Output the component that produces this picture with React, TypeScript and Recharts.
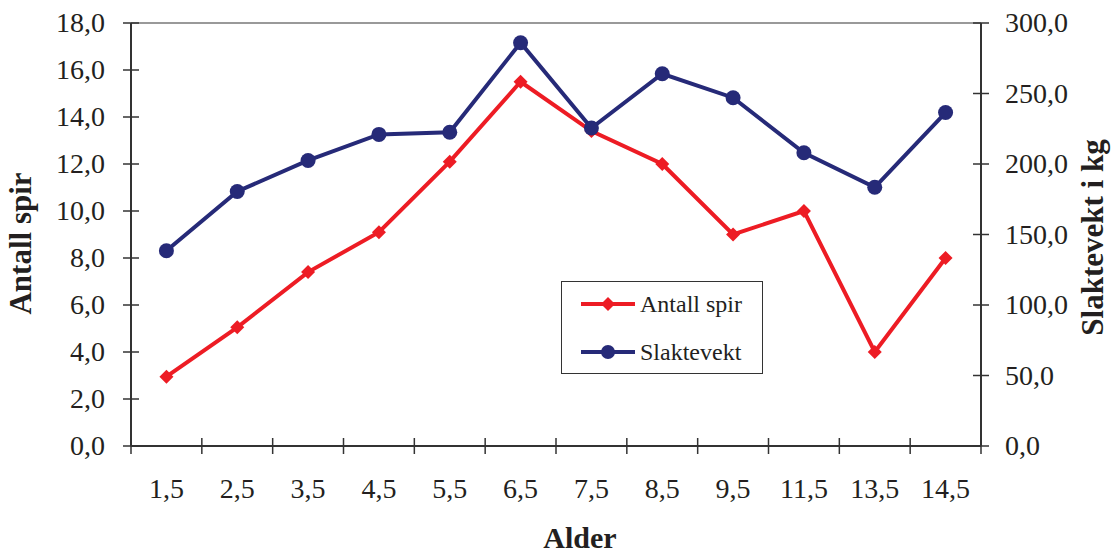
import React from 'react';
import { LineChart, Line, XAxis, YAxis, Legend, ReferenceLine } from 'recharts';

const categories = ['1,5', '2,5', '3,5', '4,5', '5,5', '6,5', '7,5', '8,5', '9,5', '11,5', '13,5', '14,5'];
const antallSpir = [2.95, 5.05, 7.4, 9.1, 12.1, 15.5, 13.4, 12.0, 9.0, 10.0, 4.0, 8.0];
const slaktevekt = [138.5, 180.5, 202.5, 221, 222.5, 286, 225.5, 264, 247, 208, 183.5, 236.5];
const leftTicks = [0, 2, 4, 6, 8, 10, 12, 14, 16, 18];
const rightTicks = [0, 50, 100, 150, 200, 250, 300];

const seriesNames = ['Antall spir', 'Slaktevekt'];

const data = categories.map((c, i) => ({ alder: c, antall: antallSpir[i], slakt: slaktevekt[i] }));

const W = 1114;
const H = 556;
const LEFT_W = 131;
const RIGHT_W = 133;
const TOP = 23;
const X_H = 110;
const STEP = (W - LEFT_W - RIGHT_W) / categories.length;

const RED = '#ED1C24';
const NAVY = '#262A78';
const TXT = '#231F20';
const FONT = '"Liberation Serif", "Times New Roman", serif';

const fmt = (v: number) => v.toFixed(1).replace('.', ',');

const Diamond = (props: any) => {
  const { cx, cy } = props;
  if (cx == null || cy == null) return null;
  const s = 7;
  return <polygon points={`${cx},${cy - s} ${cx + s},${cy} ${cx},${cy + s} ${cx - s},${cy}`} fill={RED} />;
};

const Circle = (props: any) => {
  const { cx, cy } = props;
  if (cx == null || cy == null) return null;
  return <circle cx={cx} cy={cy} r={7.5} fill={NAVY} />;
};

const XTick = (props: any) => {
  const { x, y, payload, index } = props;
  const half = STEP / 2;
  return (
    <g>
      <line x1={x - half} x2={x - half} y1={y - 8} y2={y + 8} stroke="#333" strokeWidth={1.5} />
      {index === categories.length - 1 && (
        <line x1={x + half} x2={x + half} y1={y - 8} y2={y + 8} stroke="#333" strokeWidth={1.5} />
      )}
      <text x={x} y={y + 52} textAnchor="middle" fontFamily={FONT} fontSize={28} fill={TXT}>
        {payload.value}
      </text>
    </g>
  );
};

const LeftTick = (props: any) => {
  const { x, y, payload } = props;
  return (
    <g>
      <line x1={x - 8} x2={x + 8} y1={y} y2={y} stroke="#333" strokeWidth={1.5} />
      <text x={x - 26} y={y + 9} textAnchor="end" fontFamily={FONT} fontSize={28} fill={TXT}>
        {fmt(payload.value)}
      </text>
    </g>
  );
};

const RightTick = (props: any) => {
  const { x, y, payload } = props;
  return (
    <g>
      <line x1={x - 8} x2={x + 8} y1={y} y2={y} stroke="#333" strokeWidth={1.5} />
      <text x={x + 24} y={y + 9} textAnchor="start" fontFamily={FONT} fontSize={28} fill={TXT}>
        {fmt(payload.value)}
      </text>
    </g>
  );
};

const LeftTitle = (props: any) => {
  const vb = props.viewBox || {};
  const cx = 31;
  const cy = (vb.y ?? TOP) + (vb.height ?? 423) / 2 + 9;
  return (
    <text x={cx} y={cy} transform={`rotate(-90, ${cx}, ${cy})`} textAnchor="middle" fontFamily={FONT} fontWeight="bold" fontSize={31} fill={TXT}>
      Antall spir
    </text>
  );
};

const RightTitle = (props: any) => {
  const vb = props.viewBox || {};
  const cx = 1103;
  const cy = (vb.y ?? TOP) + (vb.height ?? 423) / 2 + 3;
  return (
    <text x={cx} y={cy} transform={`rotate(-90, ${cx}, ${cy})`} textAnchor="middle" fontFamily={FONT} fontWeight="bold" fontSize={31} fill={TXT}>
      Slaktevekt i kg
    </text>
  );
};

const XTitle = (props: any) => {
  const vb = props.viewBox || {};
  const x = (vb.x ?? LEFT_W) + (vb.width ?? 850) / 2 + 24;
  return (
    <text x={x} y={548} textAnchor="middle" fontFamily={FONT} fontWeight="bold" fontSize={30} fill={TXT}>
      Alder
    </text>
  );
};

const LegendBox = () => (
  <div
    style={{
      width: 202,
      height: 93,
      boxSizing: 'border-box',
      border: '1.5px solid #333',
      background: '#fff',
      fontFamily: FONT,
      fontSize: 24,
      color: TXT,
      position: 'relative',
    }}
  >
    {seriesNames.map((name, i) => (
      <div key={name} style={{ position: 'absolute', left: 18, top: i === 0 ? 7 : 55, height: 30, display: 'flex', alignItems: 'center' }}>
        <svg width={56} height={20} style={{ display: 'block' }}>
          <line x1={1} x2={55} y1={10} y2={10} stroke={i === 0 ? RED : NAVY} strokeWidth={4} />
          {i === 0 ? (
            <polygon points="28,3 35,10 28,17 21,10" fill={RED} />
          ) : (
            <circle cx={28} cy={10} r={7} fill={NAVY} />
          )}
        </svg>
        <span style={{ marginLeft: 4, lineHeight: '30px', whiteSpace: 'nowrap' }}>{name}</span>
      </div>
    ))}
  </div>
);

export default function App() {
  return (
    <div style={{ position: 'absolute', left: 0, top: 0, width: W, height: H, background: '#fff' }}>
      <LineChart width={W} height={H} data={data} margin={{ top: TOP, right: 0, bottom: 0, left: 0 }}>
        <XAxis
          dataKey="alder"
          height={X_H}
          interval={0}
          padding={{ left: STEP / 2, right: STEP / 2 }}
          tickSize={0}
          tickMargin={0}
          tickLine={false}
          axisLine={{ stroke: '#333', strokeWidth: 2 }}
          tick={<XTick />}
          label={<XTitle />}
        />
        <YAxis
          yAxisId="left"
          orientation="left"
          width={LEFT_W}
          domain={[0, 18]}
          ticks={leftTicks}
          interval={0}
          tickSize={0}
          tickMargin={0}
          tickLine={false}
          axisLine={{ stroke: '#333', strokeWidth: 2 }}
          tick={<LeftTick />}
          label={<LeftTitle />}
        />
        <YAxis
          yAxisId="right"
          orientation="right"
          width={RIGHT_W}
          domain={[0, 300]}
          ticks={rightTicks}
          interval={0}
          tickSize={0}
          tickMargin={0}
          tickLine={false}
          axisLine={{ stroke: '#333', strokeWidth: 2 }}
          tick={<RightTick />}
          label={<RightTitle />}
        />
        <ReferenceLine yAxisId="left" y={18} stroke="#999" strokeWidth={2} />
        <Legend
          layout="horizontal"
          verticalAlign="middle"
          align="center"
          content={<LegendBox />}
          wrapperStyle={{ position: 'absolute', left: 561, top: 281, width: 202, height: 93, bottom: 'auto', right: 'auto' }}
        />
        <Line
          yAxisId="left"
          dataKey="antall"
          name={seriesNames[0]}
          stroke={RED}
          strokeWidth={4}
          dot={<Diamond />}
          activeDot={false}
          isAnimationActive={false}
        />
        <Line
          yAxisId="right"
          dataKey="slakt"
          name={seriesNames[1]}
          stroke={NAVY}
          strokeWidth={4}
          dot={<Circle />}
          activeDot={false}
          isAnimationActive={false}
        />
      </LineChart>
    </div>
  );
}
